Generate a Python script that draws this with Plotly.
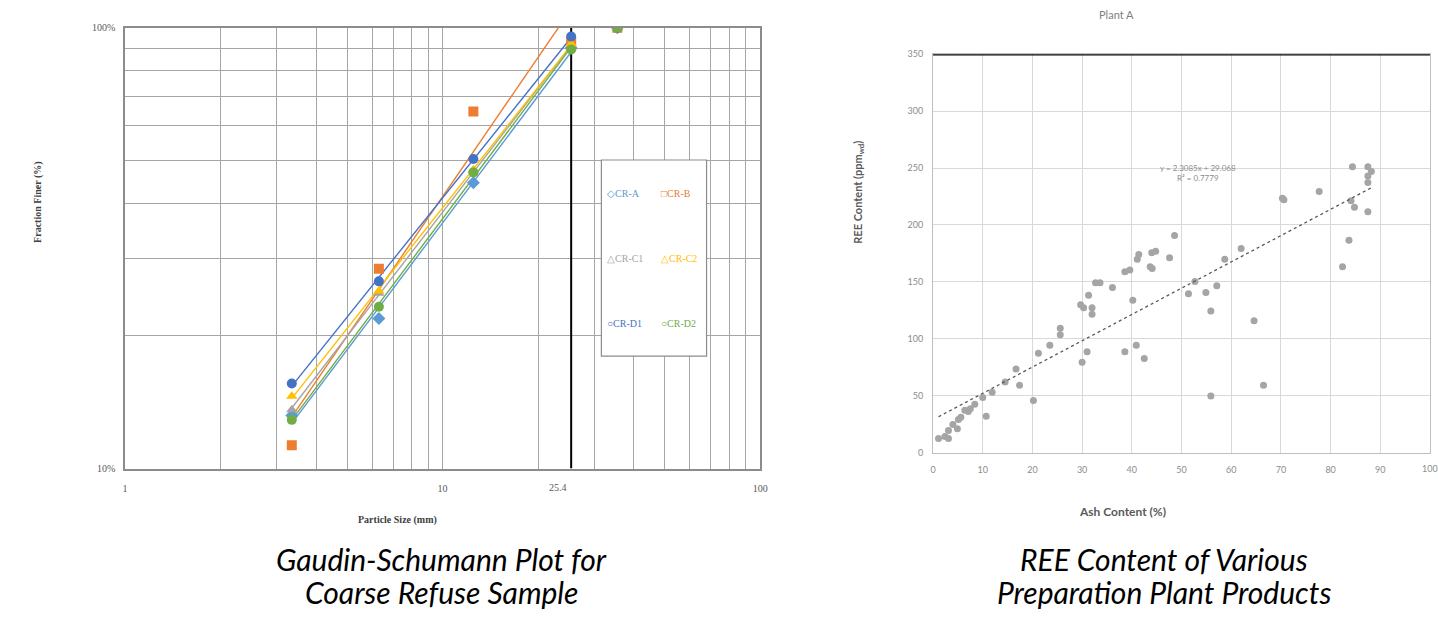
import numpy as np
import plotly.graph_objects as go

# ---------------- Left chart data (Gaudin-Schumann) ----------------
sizes_mm = [3.35, 6.3, 12.5, 25.4, 35.5]
series_names = ["CR-A", "CR-B", "CR-C1", "CR-C2", "CR-D1", "CR-D2"]
cr_a = [13.2, 21.9, 44.5, 90.0, 100]
cr_b = [11.3, 28.4, 64.6, 93.0, 100]
cr_c1 = [13.6, 25.0, 47.5, 90.5, 100]
cr_c2 = [14.6, 25.3, 47.6, 92.0, 100]
cr_d1 = [15.6, 26.6, 50.4, 95.6, 100]
cr_d2 = [12.9, 23.3, 47.0, 89.3, 100]
fit_count = 4  # sieve sizes used for the power trendlines
x_major = [1, 10, 100]
x_major_labels = ["1", "10", "100"]
y_major = [10, 100]
y_major_labels = ["10%", "100%"]
marker_line = 25.4

# ---------------- Right chart data (REE vs Ash) ----------------
ash = [1.1, 2.4, 3.1, 3.1, 4.0, 4.9, 5.1, 5.6, 6.4, 7.1, 7.5, 8.4, 10.0, 10.7, 11.9,
       14.5, 16.7, 17.4, 20.2, 21.2, 23.5, 25.6, 25.6, 29.7, 30.3, 31.3, 32.0, 32.0,
       30.0, 31.0, 32.7, 33.6, 36.1, 38.6, 39.6, 40.2, 38.6, 40.9, 42.5, 41.1, 41.4,
       43.7, 44.1, 44.0, 44.8, 47.6, 48.6, 51.4, 52.7, 54.9, 57.1, 55.9, 55.9, 58.7,
       62.0, 64.6, 66.5, 70.3, 70.6, 77.7, 82.4, 83.7, 84.1, 84.8, 84.4, 87.5, 88.2,
       87.5, 87.5, 87.5]
ree = [12.5, 14.2, 12.5, 19.6, 24.8, 21.1, 29.1, 31.2, 37.2, 36.3, 38.6, 42.6, 48.4, 32.0, 53.0,
       62.2, 73.6, 59.3, 45.8, 87.4, 94.3, 109.2, 103.5, 129.9, 127.3, 138.2, 127.3, 121.6,
       79.4, 88.6, 149.2, 149.2, 145.1, 158.9, 160.4, 133.9, 88.6, 94.3, 82.8, 169.8, 174.1,
       163.2, 161.8, 175.6, 177.0, 171.3, 190.8, 139.7, 150.3, 140.8, 146.6, 124.5, 49.8, 169.8,
       179.3, 115.8, 59.3, 223.5, 222.1, 229.3, 163.2, 186.5, 221.2, 215.5, 251.1, 251.1, 247.0,
       243.1, 237.3, 211.5]
trend_slope = 2.3085
trend_intercept = 29.068
trend_r2 = 0.7779
right_x_ticks = list(range(0, 91, 10))
right_y_ticks = list(range(0, 351, 50))

left_caption = ["Gaudin-Schumann Plot for", "Coarse Refuse Sample"]
right_caption = ["REE Content of Various", "Preparation Plant Products"]

W, H = 1438, 623
def px(X):
    return X / W
def py(Y):
    return 1 - Y / H

fig = go.Figure()

colors = ["#5B9BD5", "#ED7D31", "#A5A5A5", "#FFC000", "#4472C4", "#70AD47"]
symbols = ["diamond", "square", "triangle-up", "triangle-up", "circle", "circle"]
legend_glyphs = ["◇", "□", "△", "△", "○", "○"]
all_series = [cr_a, cr_b, cr_c1, cr_c2, cr_d1, cr_d2]

# 25.4 mm reference line
fig.add_trace(go.Scatter(x=[marker_line, marker_line], y=[10, 100], mode="lines",
                         line=dict(color="black", width=2), xaxis="x", yaxis="y",
                         hoverinfo="skip", showlegend=False))

# power trendlines
for vals, col in zip(all_series, colors):
    lx = np.log10(sizes_mm[:fit_count])
    ly = np.log10(vals[:fit_count])
    b, a = np.polyfit(lx, ly, 1)
    xs = np.logspace(lx.min(), lx.max(), 40)
    ys = 10 ** (a + b * np.log10(xs))
    fig.add_trace(go.Scatter(x=xs, y=ys, mode="lines", line=dict(color=col, width=1.4),
                             xaxis="x", yaxis="y", hoverinfo="skip", showlegend=False))

# markers
for name, vals, col, sym in zip(series_names, all_series, colors, symbols):
    fig.add_trace(go.Scatter(x=sizes_mm, y=vals, mode="markers", name=name,
                             marker=dict(color=col, symbol=sym, size=10),
                             xaxis="x", yaxis="y", showlegend=False))

# right scatter
fig.add_trace(go.Scatter(x=ash, y=ree, mode="markers",
                         marker=dict(color="#A5A5A5", size=7),
                         xaxis="x2", yaxis="y2", showlegend=False))
tx = [min(ash), max(ash)]
fig.add_trace(go.Scatter(x=tx, y=[trend_slope * v + trend_intercept for v in tx], mode="lines",
                         line=dict(color="#595959", width=1.3, dash="dot"),
                         xaxis="x2", yaxis="y2", hoverinfo="skip", showlegend=False))

x_minor = [m * 10 ** e for e in range(0, 2) for m in range(2, 10)]
y_minor = [m * 10 for m in range(2, 10)]

serif = "Liberation Serif"
sans = "Lato"
grid_l = "#A6A6A6"

fig.update_layout(
    width=W, height=H, margin=dict(l=0, r=0, t=0, b=0),
    paper_bgcolor="white", plot_bgcolor="white",
    xaxis=dict(type="log", range=[0, 2], domain=[px(123), px(763)],
               tickvals=x_major, ticktext=x_major_labels,
               showgrid=True, gridcolor=grid_l, gridwidth=1.2,
               minor=dict(tickvals=x_minor, showgrid=True, gridcolor=grid_l, gridwidth=1.2, ticks=""),
               showline=True, mirror=True, linecolor="#8C8C8C", linewidth=1.5,
               ticks="", tickfont=dict(family=serif, size=10, color="#595959"),
               ticklabelstandoff=10, zeroline=False, anchor="y"),
    yaxis=dict(type="log", range=[1, 2], domain=[py(471.7), py(22.3)],
               tickvals=y_major, ticktext=y_major_labels,
               showgrid=True, gridcolor=grid_l, gridwidth=1.2,
               minor=dict(tickvals=y_minor, showgrid=True, gridcolor=grid_l, gridwidth=1.2, ticks=""),
               showline=True, mirror=True, linecolor="#8C8C8C", linewidth=1.5,
               ticks="", tickfont=dict(family=serif, size=10, color="#595959"),
               ticklabelstandoff=6, zeroline=False, anchor="x"),
    xaxis2=dict(range=[0, 100], domain=[px(937.2), 1.0], tickvals=right_x_ticks,
                showgrid=True, gridcolor="#D9D9D9", gridwidth=1,
                showline=True, mirror=True, linecolor="#BFBFBF", linewidth=1.2,
                ticks="", tickfont=dict(family=sans, size=9, color="#8C8C8C"),
                ticklabelstandoff=8, zeroline=False, anchor="y2"),
    yaxis2=dict(range=[0, 350], domain=[py(455.5), py(49.1)], tickvals=right_y_ticks,
                showgrid=True, gridcolor="#D9D9D9", gridwidth=1,
                showline=True, mirror=True, linecolor="#BFBFBF", linewidth=1.2,
                ticks="", tickfont=dict(family=sans, size=9, color="#8C8C8C"),
                ticklabelstandoff=7, zeroline=False, anchor="x2"),
)

shapes = [
    dict(type="line", xref="x2 domain", yref="y2", x0=0, x1=1, y0=350, y1=350,
         line=dict(color="black", width=2.5)),
    dict(type="rect", xref="paper", yref="paper", x0=px(603), x1=px(709), y0=py(357), y1=py(157),
         line=dict(color="#8C8C8C", width=1.2), fillcolor="white", layer="above"),
]
fig.update_layout(shapes=shapes)

def note(X, Y, text, font, **kw):
    d = dict(x=px(X), y=py(Y), xref="paper", yref="paper", text=text, showarrow=False,
             xanchor="center", yanchor="middle", font=font)
    d.update(kw)
    return d

ann = []
leg_cols = [607, 661]
leg_rows = [191, 257.7, 323.3]
for i, (name, col, g) in enumerate(zip(series_names, colors, legend_glyphs)):
    r, c = divmod(i, 2)
    ann.append(note(leg_cols[c], leg_rows[r], f"{g}{name}",
                    dict(family=serif, size=10, color=col), xanchor="left"))
ann.append(dict(x=np.log10(marker_line), y=0, xref="x", yref="y domain", text="25.4",
                showarrow=False, xanchor="center", yanchor="top", xshift=-13, yshift=-11,
                font=dict(family=serif, size=10, color="#595959")))
ann.append(note(398, 524, "<b>Particle Size (mm)</b>", dict(family=serif, size=10, color="#404040")))
ann.append(note(35, 200, "<b>Fraction Finer (%)</b>", dict(family=serif, size=10, color="#404040"),
                textangle=-90))
ann.append(note(1122, 6, "Plant A", dict(family=sans, size=11, color="#7F7F7F"), yanchor="top",
                yshift=6))
ann.append(note(1128, 515, "<b>Ash Content (%)</b>", dict(family=sans, size=12, color="#595959")))
ann.append(note(862, 190, "<b>REE Content (ppm<sub>wd</sub>)</b>",
                dict(family=sans, size=11, color="#595959"), textangle=-90))
ann.append(dict(x=53.3, y=246, xref="x2", yref="y2", xanchor="center", yanchor="middle",
                text=f"y = {trend_slope}x + {trend_intercept}<br>R² = {trend_r2}",
                showarrow=False, font=dict(family=sans, size=8, color="#8C8C8C")))
ann.append(dict(x=100, y=0, xref="x2", yref="y2", text="100", showarrow=False,
                xanchor="center", yanchor="top", yshift=-8,
                font=dict(family=sans, size=9, color="#8C8C8C")))
cap_font = dict(family=sans, size=30, color="black")
for i, line in enumerate(left_caption):
    ann.append(note(442, 564 + 34 * i, f"<i>{line}</i>", cap_font))
for i, line in enumerate(right_caption):
    ann.append(note(1170, 564 + 34 * i, f"<i>{line}</i>", cap_font))
fig.update_layout(annotations=ann)

fig.write_html("out.html", config={"displayModeBar": False},
               post_script="document.body.style.margin='0';")
